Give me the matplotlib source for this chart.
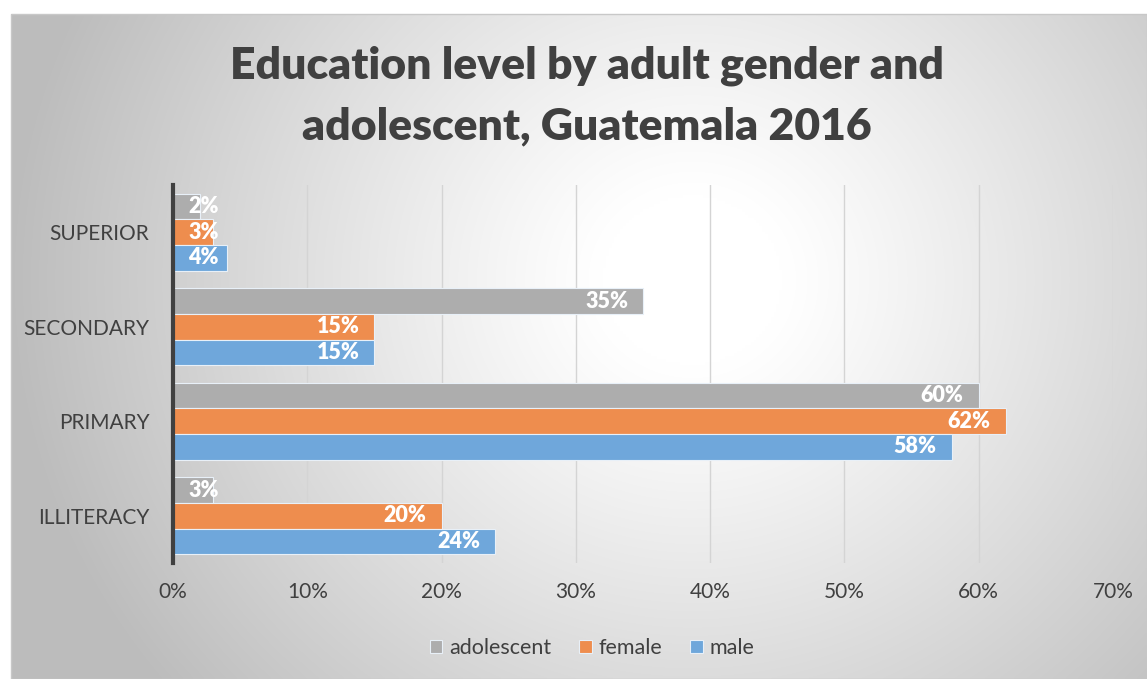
import numpy as np
import matplotlib
matplotlib.use("Agg")
import matplotlib.pyplot as plt
from matplotlib.patches import Rectangle

categories = ["ILLITERACY", "PRIMARY", "SECONDARY", "SUPERIOR"]
series_names = ["adolescent", "female", "male"]
adolescent = [3, 60, 35, 2]
female = [20, 62, 15, 3]
male = [24, 58, 15, 4]
xticks = [0, 10, 20, 30, 40, 50, 60, 70]
colors = {"adolescent": "#ADADAD", "female": "#EE8D4E", "male": "#6FA7DB"}

W, H = 1147, 679
fig = plt.figure(figsize=(W / 100, H / 100), dpi=100)
fig.patch.set_facecolor("white")

# background radial gradient in chart frame
x0, y0 = 11 / W, 0.0
x1, y1 = 1.0, 1 - 14 / H
bg = fig.add_axes([x0, y0, x1 - x0, y1 - y0], zorder=0)
gx, gy = np.meshgrid(np.linspace(0, 1, 400), np.linspace(0, 1, 240))
cx, cy = 0.60, 0.40
r = np.sqrt(((gx - cx) * 1.0) ** 2 + ((gy - cy) * 0.62) ** 2)
val = 1 - np.clip((r - 0.08) / 0.52, 0, 1) ** 1.1 * 0.26
img = np.dstack([val, val, val])
bg.imshow(img, aspect="auto", extent=[0, 1, 0, 1], origin="upper", interpolation="bilinear")
bg.set_xlim(0, 1); bg.set_ylim(0, 1)
bg.axis("off")
fig.add_artist(Rectangle((x0, y0), x1 - x0, y1 - y0, transform=fig.transFigure,
                         fill=False, edgecolor="#c8c8c8", lw=1.0, zorder=1))

ax = fig.add_axes([173 / W, 116 / H, 940 / W, 378 / H], zorder=2)
ax.patch.set_alpha(0)
ypos = np.arange(len(categories))
bh = 0.27
offsets = {"adolescent": bh, "female": 0.0, "male": -bh}
data = {"adolescent": adolescent, "female": female, "male": male}
for name in series_names:
    vals = data[name]
    ax.barh(ypos + offsets[name], vals, height=bh, color=colors[name],
            edgecolor="#e8f0f8", linewidth=0.8, label=name, zorder=3)
    for y, v in zip(ypos + offsets[name], vals):
        if v < 5:
            ax.annotate(f"{v}%", (0, y), xytext=(15, 0), textcoords="offset pixels",
                        ha="left", va="center", color="white", fontsize=15.5, fontweight="heavy",
                        fontfamily="Lato", zorder=4)
        else:
            ax.annotate(f"{v}%", (v, y), xytext=(-15, 0), textcoords="offset pixels",
                        ha="right", va="center", color="white", fontsize=15.5, fontweight="heavy",
                        fontfamily="Lato", zorder=4)

ax.set_xlim(0, 70)
ax.set_ylim(-0.5, 3.5)
ax.set_xticks(xticks)
ax.set_xticklabels([f"{t}%" for t in xticks], fontsize=15, color="#404040", fontfamily="Lato")
ax.set_yticks(ypos)
ax.set_yticklabels(categories, fontsize=15, color="#404040", fontfamily="Lato")
ax.tick_params(axis="both", length=0)
ax.tick_params(axis="x", pad=14)
ax.tick_params(axis="y", pad=17)
ax.xaxis.grid(True, color="#d4d4d4", lw=1.0, zorder=0)
ax.set_axisbelow(True)
for s in ["top", "right", "bottom"]:
    ax.spines[s].set_visible(False)
ax.spines["left"].set_color("#404040")
ax.spines["left"].set_linewidth(3)
ax.spines["left"].set_zorder(5)

fig.text(587 / W, 1 - 96 / H, "Education level by adult gender and\nadolescent, Guatemala 2016",
         ha="center", va="center", fontsize=32, fontweight="heavy", color="#404040",
         fontfamily="Lato", linespacing=1.62, zorder=3)

handles, labels = ax.get_legend_handles_labels()
leg = fig.legend(handles, labels, loc="center", bbox_to_anchor=(592 / W, 1 - 648 / H), ncol=3,
                 frameon=False, prop={"family": "Lato", "size": 15.5}, handlelength=0.6,
                 handleheight=0.6, handletextpad=0.3, columnspacing=1.3)
for t in leg.get_texts():
    t.set_color("#404040")

fig.savefig("out.png", dpi=100)
